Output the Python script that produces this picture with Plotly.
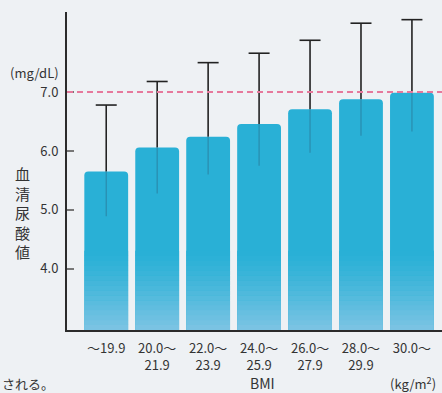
import plotly.graph_objects as go

categories = ["～19.9", "20.0～<br>21.9", "22.0～<br>23.9", "24.0～<br>25.9",
              "26.0～<br>27.9", "28.0～<br>29.9", "30.0～"]
means = [5.65, 6.06, 6.24, 6.46, 6.71, 6.88, 6.99]
upper = [6.78, 7.18, 7.50, 7.66, 7.88, 8.17, 8.23]
lower = [4.89, 5.28, 5.60, 5.75, 5.97, 6.26, 6.33]
ref_value = 7.0
y_ticks = [4.0, 5.0, 6.0, 7.0]

FONT = "Noto Sans CJK JP"
TXT = "#333333"
YMIN, YMAX = 2.96, 8.36

fig = go.Figure()

fig.add_trace(go.Bar(x=categories, y=means, marker=dict(color="#29b0d6", cornerradius=4,
                     line=dict(width=0)), width=0.86, hoverinfo="skip"))

# gradient bands at bottom of bars
top_c = (41, 176, 214)
bot_c = (128, 197, 228)
g_top, n = 4.3, 16
step = (g_top - YMIN) / n
for i in range(n):
    lo = YMIN + i * step
    t = (1 - (i + 1) / n) ** 1.2
    c = tuple(int(round(top_c[k] + (bot_c[k] - top_c[k]) * t)) for k in range(3))
    fig.add_trace(go.Bar(x=categories, y=[step * 1.05] * len(categories), base=[lo] * len(categories),
                         marker=dict(color="rgb(%d,%d,%d)" % c, line=dict(width=0)),
                         width=0.86, hoverinfo="skip"))

# upper whiskers (black) with caps
fig.add_trace(go.Scatter(
    x=categories, y=upper, mode="markers",
    marker=dict(symbol="line-ew-open", size=15, line=dict(width=1.6, color="#222222"), color="#222222"),
    error_y=dict(type="data", symmetric=False, array=[0] * len(upper),
                 arrayminus=[u - m for u, m in zip(upper, means)],
                 width=0, thickness=1.6, color="#222222"),
    hoverinfo="skip"))
# lower whiskers (inside bars)
fig.add_trace(go.Scatter(
    x=categories, y=means, mode="markers", marker=dict(size=1, opacity=0),
    error_y=dict(type="data", symmetric=False, array=[0] * len(means),
                 arrayminus=[m - l for m, l in zip(means, lower)],
                 width=0, thickness=1.2, color="#2a8cad"),
    hoverinfo="skip"))

fig.add_shape(type="line", xref="paper", yref="y", x0=0, x1=1, y0=ref_value, y1=ref_value,
              line=dict(color="#e6799c", width=2, dash="6px,4px"), layer="above")

fig.update_layout(
    width=442, height=393,
    margin=dict(l=67, r=0, t=12, b=63),
    paper_bgcolor="#eef1f4", plot_bgcolor="rgba(0,0,0,0)",
    barmode="overlay", showlegend=False,
    font=dict(family=FONT, color=TXT, size=13),
    xaxis=dict(range=[-0.77, 6.59], showgrid=False, zeroline=False,
               showline=True, linecolor="#2b2b2b", linewidth=2, ticks="",
               ticklabelstandoff=5,
               tickfont=dict(size=13, family=FONT, color=TXT), fixedrange=True),
    yaxis=dict(range=[YMIN, YMAX], showgrid=False, zeroline=False,
               showline=True, linecolor="#2b2b2b", linewidth=2,
               tickvals=y_ticks, ticktext=["%.1f" % v for v in y_ticks],
               ticks="inside", ticklen=7, tickwidth=1.5, tickcolor="#777777",
               ticklabelstandoff=4,
               tickfont=dict(size=13, family=FONT, color=TXT), fixedrange=True),
    annotations=[
        dict(text="(mg/dL)", xref="paper", yref="paper", x=0, y=0.81, xanchor="center",
             yanchor="middle", showarrow=False, font=dict(size=13, family=FONT, color=TXT),
             xshift=-33),
        dict(text="血<br>清<br>尿<br>酸<br>値", xref="paper", yref="paper", x=0, y=0.37,
             xanchor="center", yanchor="middle", xshift=-45, showarrow=False,
             font=dict(size=15, family=FONT, color=TXT)),
        dict(text="BMI", xref="paper", yref="paper", x=0.52, y=0, yshift=-53,
             xanchor="center", yanchor="middle", showarrow=False,
             font=dict(size=14, family=FONT, color=TXT)),
        dict(text="(kg/m<sup>2</sup>)", xref="paper", yref="paper", x=0.99, y=0, yshift=-53,
             xanchor="right", yanchor="middle", showarrow=False,
             font=dict(size=13, family=FONT, color=TXT)),
        dict(text="される。", xref="paper", yref="paper", x=0, y=0, xshift=-67, yshift=-53,
             xanchor="left", yanchor="middle", showarrow=False,
             font=dict(size=13, family=FONT, color=TXT)),
    ],
)

fig.write_html("out.html", config={"displayModeBar": False},
               post_script="document.body.style.margin='0';document.body.style.overflow='hidden';")
